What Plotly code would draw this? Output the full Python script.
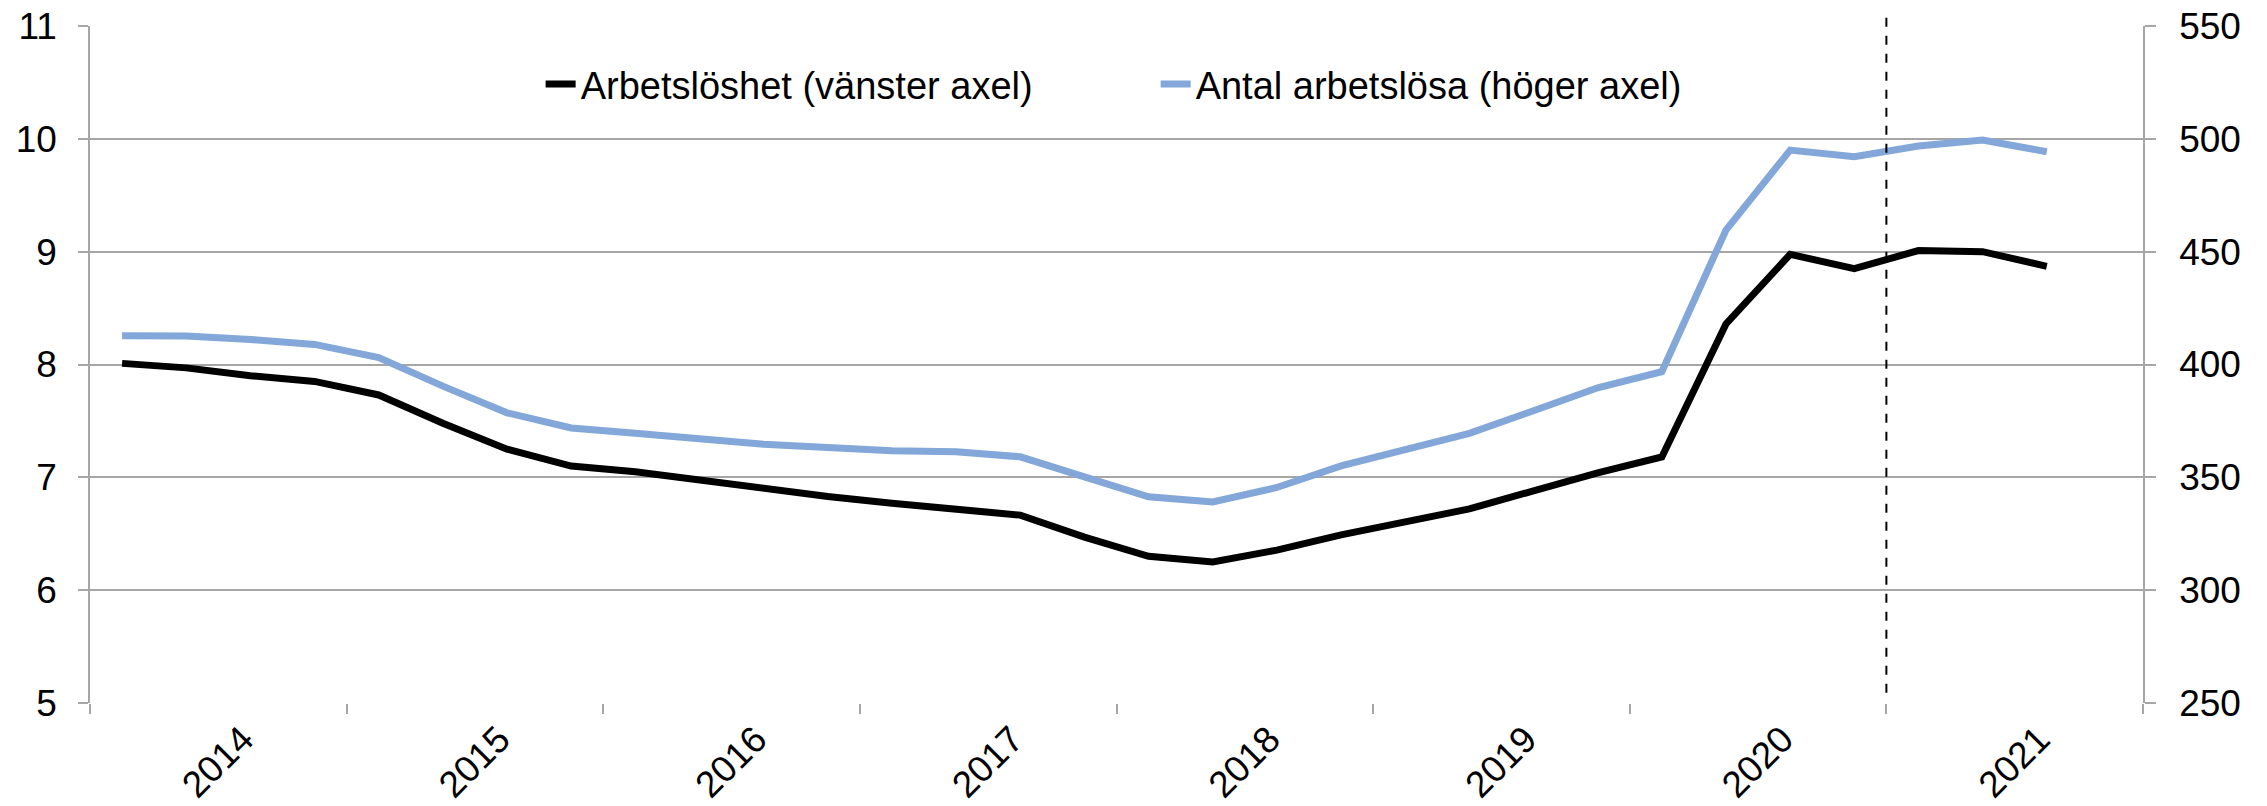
import plotly.graph_objects as go

quarters = [f"{y}K{q}" for y in range(2014, 2022) for q in range(1, 5)][:31]
years = ["2014", "2015", "2016", "2017", "2018", "2019", "2020", "2021"]

arbetsloshet = [8.01, 7.97, 7.90, 7.85, 7.73, 7.48, 7.25, 7.10, 7.05, 6.975, 6.90, 6.83,
                6.77, 6.72, 6.665, 6.47, 6.30, 6.25, 6.355, 6.49, 6.61, 6.72, 6.88, 7.04,
                7.18, 8.36, 8.976, 8.85, 9.01, 9.00, 8.87]
antal_arbetslosa = [412.7, 412.6, 411.1, 408.9, 403.1, 390.4, 378.6, 371.9, 369.5, 367.2,
                    364.7, 363.2, 361.8, 361.3, 359.1, 350.2, 341.4, 339.1, 345.5, 355.1,
                    362.5, 369.5, 379.5, 389.7, 396.8, 459.6, 495.0, 492.1, 496.8, 499.5, 494.3]

x = list(range(len(quarters)))
n_slots = len(years) * 4
forecast_boundary = 27.5

FONT = "Liberation Sans, Arial, sans-serif"
GRID = "#a6a6a6"

fig = go.Figure()
fig.add_trace(go.Scatter(x=x, y=arbetsloshet, name="Arbetslöshet (vänster axel)",
                         mode="lines", line=dict(color="black", width=7),
                         text=quarters, yaxis="y"))
fig.add_trace(go.Scatter(x=x, y=antal_arbetslosa, name="Antal arbetslösa (höger axel)",
                         mode="lines", line=dict(color="#82a7d8", width=7),
                         text=quarters, yaxis="y2"))

label_shift = 0.38
fig.update_layout(
    width=2267, height=806,
    margin=dict(l=90, r=124, t=26, b=103, autoexpand=False),
    paper_bgcolor="white", plot_bgcolor="white",
    font=dict(family=FONT, size=37, color="black"),
    showlegend=True,
    legend=dict(orientation="h", x=0.2195, xanchor="left", y=0.914, yanchor="middle",
                font=dict(size=38), bgcolor="rgba(0,0,0,0)",
                entrywidth=570, entrywidthmode="pixels"),
    xaxis=dict(range=[-0.5, n_slots - 0.5], showgrid=False, zeroline=False,
               showline=False, automargin=False, ticklabeloverflow="allow",
               tickmode="array",
               tickvals=[1.5 + 4 * k + label_shift for k in range(len(years))],
               ticktext=years, tickangle=-45, ticks="", ticklabelstandoff=6,
               minor=dict(tickmode="array",
                          tickvals=[-0.5 + 4 * k for k in range(len(years) + 1)],
                          ticks="outside", ticklen=10, tickwidth=1.5, tickcolor=GRID,
                          showgrid=False),
               tickfont=dict(size=37)),
    yaxis=dict(range=[5, 11], dtick=1, tick0=5, showgrid=True, gridcolor=GRID, gridwidth=1.5,
               zeroline=False, showline=True, linecolor=GRID, linewidth=1.5, automargin=False,
               ticklabeloverflow="allow",
               ticks="outside", ticklen=10, tickwidth=1.5, tickcolor=GRID,
               ticklabelstandoff=14, tickfont=dict(size=37)),
    yaxis2=dict(range=[250, 550], dtick=50, tick0=250, overlaying="y", side="right",
                showgrid=False, zeroline=False, showline=True, linecolor=GRID, linewidth=1.5,
                automargin=False, ticklabeloverflow="allow",
                ticks="outside", ticklen=11, tickwidth=1.5, tickcolor=GRID,
                ticklabelstandoff=16, tickfont=dict(size=37)),
)

fig.add_shape(type="line", xref="x", yref="paper",
              x0=forecast_boundary, x1=forecast_boundary, y0=0.015, y1=1.019,
              line=dict(color="black", width=2, dash="dash"))

fig.write_html("out.html", config={"displayModeBar": False},
               post_script="document.body.style.margin='0';document.body.style.overflow='hidden';")
